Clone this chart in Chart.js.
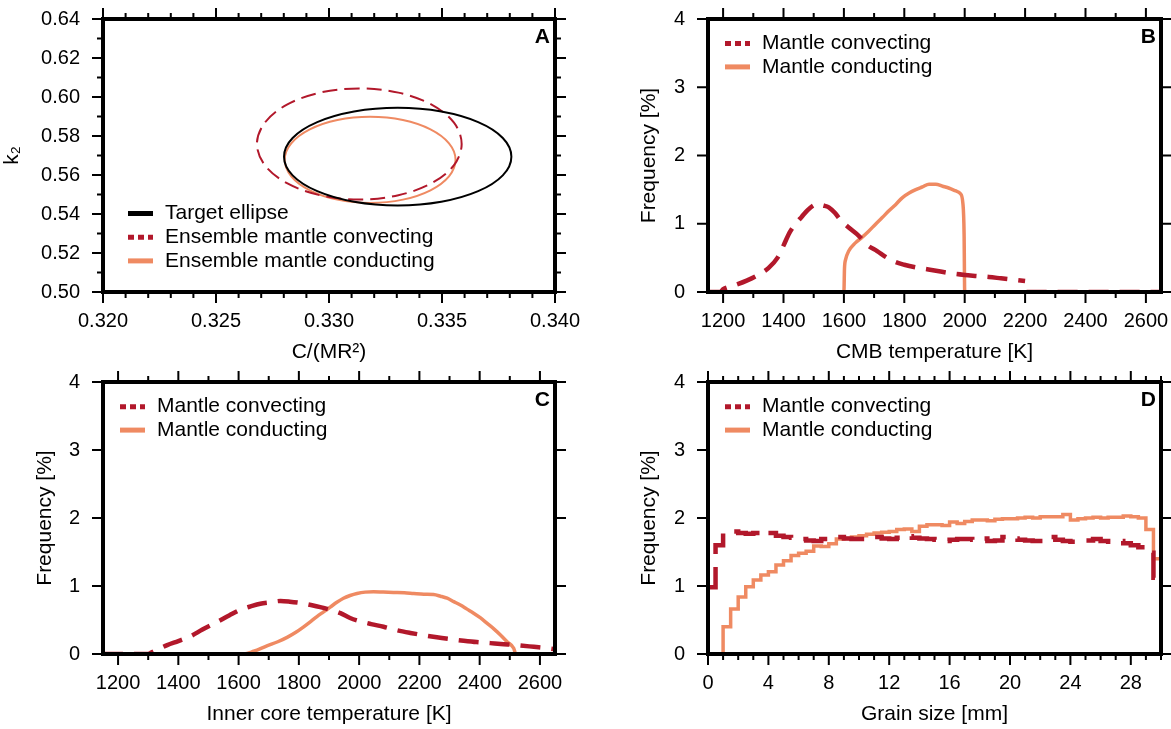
<!DOCTYPE html>
<html>
<head>
<meta charset="utf-8">
<script src="https://cdn.jsdelivr.net/npm/chart.js@4.4.1/dist/chart.umd.min.js"></script>
<style>
  html, body { margin: 0; padding: 0; background: #fff; }
  #wrap { position: relative; width: 1171px; height: 729px; overflow: hidden; background: #fff; }
  canvas { position: absolute; }
</style>
</head>
<body>
<div id="wrap">
  <canvas id="panelA" width="585" height="364" style="left:0;top:0"></canvas>
  <canvas id="panelB" width="586" height="364" style="left:585px;top:0"></canvas>
  <canvas id="panelC" width="585" height="365" style="left:0;top:364px"></canvas>
  <canvas id="panelD" width="586" height="365" style="left:585px;top:364px"></canvas>
</div>
<script>
// ---------- Panel A: k2 vs C/(MR^2) confidence ellipses (closed outlines) ----------
const targetC  = [0.33304,0.33111,0.32948,0.32839,0.32801,0.32839,0.32948,0.33111,0.33304,0.33497,0.33660,0.33769,0.33807,0.33769,0.33660,0.33497];
const targetK2 = [0.59445,0.59254,0.58711,0.57899,0.56940,0.55981,0.55169,0.54626,0.54435,0.54626,0.55169,0.55981,0.56940,0.57899,0.58711,0.59254];
const convC    = [0.33134,0.32961,0.32814,0.32716,0.32681,0.32716,0.32814,0.32961,0.33134,0.33307,0.33454,0.33553,0.33587,0.33553,0.33454,0.33307];
const convK2   = [0.60442,0.60225,0.59608,0.58683,0.57593,0.56503,0.55579,0.54961,0.54744,0.54961,0.55579,0.56503,0.57593,0.58683,0.59608,0.60225];
const condC    = [0.33182,0.33037,0.32915,0.32833,0.32804,0.32833,0.32915,0.33037,0.33182,0.33327,0.33449,0.33531,0.33560,0.33531,0.33449,0.33327];
const condK2   = [0.58985,0.58817,0.58338,0.57622,0.56777,0.55932,0.55216,0.54737,0.54569,0.54737,0.55216,0.55932,0.56777,0.57622,0.58338,0.58817];

// ---------- Panel B: CMB temperature histograms [K], frequency [%] (null = gap) ----------
const cmbConvT = [1150,1190,1200,1240,1280,1320,1350,1380,1400,1420,1440,1460,1480,1500,1515,1530,1550,1570,1590,1620,1650,1680,1710,1740,1770,1800,1840,1880,1920,1960,2000,2040,2080,2120,2160,2200,2202,2205,2650];
const cmbConvF = [0,0,0.04,0.10,0.17,0.26,0.35,0.50,0.68,0.87,1.00,1.10,1.20,1.27,1.29,1.27,1.24,1.16,1.05,0.93,0.82,0.68,0.60,0.51,0.44,0.40,0.36,0.33,0.30,0.27,0.25,0.235,0.22,0.20,0.18,0.16,null,0,0];
const cmbCondT = [1150,1600,1602,1606,1616,1638,1660,1682,1704,1727,1749,1771,1793,1816,1838,1860,1882,1904,1927,1949,1971,1986,1994,1998,2000,2650];
const cmbCondF = [0,0,0.35,0.48,0.60,0.72,0.80,0.89,0.99,1.09,1.19,1.28,1.38,1.45,1.50,1.54,1.58,1.58,1.55,1.52,1.48,1.44,1.30,0.85,0,0];

// ---------- Panel C: inner core temperature histograms [K] ----------
const icConvT = [1150,1300,1310,1363,1400,1440,1480,1528,1570,1606,1640,1672,1705,1739,1770,1805,1840,1871,1905,1938,1970,2004,2040,2081,2125,2170,2215,2258,2300,2347,2390,2435,2480,2524,2580,2634,2650];
const icConvF = [0,0,0.02,0.13,0.19,0.26,0.36,0.47,0.57,0.65,0.70,0.74,0.76,0.78,0.77,0.75,0.72,0.69,0.65,0.60,0.53,0.48,0.44,0.40,0.35,0.31,0.275,0.245,0.22,0.195,0.175,0.16,0.145,0.13,0.105,0.08,0.07];
const icCondT = [1150,1617,1650,1694,1730,1761,1790,1816,1840,1860,1882,1904,1926,1948,1970,1993,2020,2048,2080,2114,2150,2181,2215,2247,2270,2292,2314,2336,2358,2380,2403,2425,2447,2469,2491,2513,2520,2650];
const icCondF = [0,0,0.04,0.12,0.18,0.245,0.32,0.40,0.48,0.55,0.62,0.69,0.76,0.82,0.86,0.89,0.91,0.915,0.91,0.905,0.90,0.89,0.88,0.875,0.85,0.82,0.77,0.72,0.66,0.60,0.53,0.45,0.37,0.28,0.18,0.085,0,0];

// ---------- Panel D: grain size histograms, 0.5 mm bins ----------
const grainEdges = [0,0.5,1,1.5,2,2.5,3,3.5,4,4.5,5,5.5,6,6.5,7,7.5,8,8.5,9,9.5,10,10.5,11,11.5,12,12.5,13,13.5,14,14.5,15,15.5,16,16.5,17,17.5,18,18.5,19,19.5,20,20.5,21,21.5,22,22.5,23,23.5,24,24.5,25,25.5,26,26.5,27,27.5,28,28.5,29,29.5,30];
const grainConvF = [0.98,1.60,1.80,1.80,1.78,1.77,1.78,1.81,1.78,1.74,1.72,1.71,1.69,1.67,1.66,1.69,1.71,1.72,1.70,1.69,1.69,1.70,1.72,1.70,1.69,1.71,1.73,1.71,1.70,1.69,1.68,1.66,1.68,1.69,1.69,1.68,1.70,1.66,1.67,1.72,1.70,1.68,1.67,1.66,1.70,1.72,1.68,1.66,1.65,1.66,1.67,1.69,1.66,1.65,1.66,1.63,1.60,1.57,1.49,1.12];
const grainCondF = [0,0,0.40,0.66,0.84,0.99,1.09,1.16,1.21,1.31,1.37,1.45,1.48,1.51,1.59,1.58,1.62,1.69,1.70,1.72,1.74,1.76,1.78,1.79,1.80,1.83,1.84,1.80,1.88,1.90,1.90,1.89,1.94,1.92,1.95,1.97,1.97,1.96,1.98,1.99,1.99,2.00,2.01,2.00,2.02,2.02,2.02,2.05,1.97,1.99,2.00,2.01,2.00,2.01,2.01,2.03,2.02,2.00,1.83,1.40];

// ---------- labels ----------
const labelTarget = 'Target ellipse';
const labelEnsConv = 'Ensemble mantle convecting';
const labelEnsCond = 'Ensemble mantle conducting';
const labelConv = 'Mantle convecting';
const labelCond = 'Mantle conducting';

const RED = '#b2182b';
const ORANGE = '#ef8a62';
const FONT = '"Liberation Sans", Arial, Helvetica, sans-serif';

Chart.defaults.font.family = FONT;
Chart.defaults.color = '#000';

const toXY = (xs, ys) => xs.map((x, i) => ({ x: x, y: ys[i] }));
const toSteps = (edges, vals) => {
  const pts = vals.map((v, i) => ({ x: edges[i], y: v }));
  pts.push({ x: edges[edges.length - 1], y: vals[vals.length - 1] });
  return pts;
};

// Datasets flagged `closed` are drawn as smooth closed loops
const closedLoopPlugin = {
  id: 'closedLoop',
  afterDatasetsUpdate(chart) {
    chart.data.datasets.forEach((ds, i) => {
      if (!ds.closed) return;
      const line = chart.getDatasetMeta(i).dataset;
      if (line) { line._loop = true; line._fullLoop = true; line._pointsUpdated = false; }
    });
  }
};

// Frame, mirrored major/minor tick marks, panel letter and legend
const framePlugin = {
  id: 'frame',
  afterDatasetsDraw(chart, args, opts) {
    const ctx = chart.ctx;
    const a = chart.chartArea;
    const xs = chart.scales.x, ys = chart.scales.y;
    ctx.save();
    ctx.strokeStyle = '#000';
    ctx.lineWidth = 2;
    ctx.lineCap = 'butt';
    const marks = (scale, minor, major, horiz) => {
      const start = Math.ceil(scale.min / minor - 1e-6);
      const end = Math.floor(scale.max / minor + 1e-6);
      for (let k = start; k <= end; k++) {
        const v = k * minor;
        const r = v / major;
        const isMajor = Math.abs(r - Math.round(r)) < 1e-6;
        const len = isMajor ? 11 : 6;
        const p = scale.getPixelForValue(v);
        ctx.beginPath();
        if (horiz) {
          ctx.moveTo(p, a.bottom); ctx.lineTo(p, a.bottom + len);
          ctx.moveTo(p, a.top); ctx.lineTo(p, a.top - len);
        } else {
          ctx.moveTo(a.left, p); ctx.lineTo(a.left - len, p);
          ctx.moveTo(a.right, p); ctx.lineTo(a.right + len, p);
        }
        ctx.stroke();
      }
    };
    marks(xs, opts.xMinor, opts.xMajor, true);
    marks(ys, opts.yMinor, opts.yMajor, false);

    ctx.lineWidth = 4;
    ctx.lineJoin = 'miter';
    ctx.strokeRect(a.left, a.top, a.right - a.left, a.bottom - a.top);

    // panel letter
    ctx.fillStyle = '#000';
    ctx.font = 'bold 21px ' + FONT;
    ctx.textAlign = 'right';
    ctx.textBaseline = 'alphabetic';
    ctx.fillText(opts.letter, a.right - 5, a.top + 24);

    // legend
    const lg = opts.legend;
    ctx.font = '21px ' + FONT;
    ctx.textAlign = 'left';
    ctx.textBaseline = 'middle';
    chart.data.datasets.forEach((ds, i) => {
      const y = a.top + lg.top + i * lg.gap;
      const x0 = a.left + lg.dx;
      ctx.beginPath();
      ctx.strokeStyle = ds.borderColor;
      ctx.lineWidth = 5;
      ctx.setLineDash(ds.borderDash && ds.borderDash.length ? [6, 4] : []);
      ctx.moveTo(x0, y);
      ctx.lineTo(x0 + 25, y);
      ctx.stroke();
      ctx.setLineDash([]);
      ctx.fillStyle = '#000';
      ctx.fillText(ds.label, a.left + lg.textDx, y);
    });
    ctx.restore();
  }
};

function makePanel(id, cfg) {
  const canvas = document.getElementById(id);
  const W = canvas.width, H = canvas.height;
  const ar = cfg.area;
  const majors = (min, max, step) => {
    const out = [];
    const s = Math.ceil(min / step - 1e-6), e = Math.floor(max / step + 1e-6);
    for (let k = s; k <= e; k++) out.push({ value: k * step });
    return out;
  };
  return new Chart(canvas, {
    type: 'scatter',
    data: { datasets: cfg.datasets },
    options: {
      responsive: false,
      animation: false,
      events: [],
      layout: { autoPadding: false, padding: { top: ar.top, right: W - ar.right, left: 0, bottom: 0 } },
      elements: { point: { radius: 0 } },
      plugins: {
        legend: { display: false },
        tooltip: { enabled: false },
        frame: {
          letter: cfg.letter,
          xMinor: cfg.x.minor, xMajor: cfg.x.major,
          yMinor: cfg.y.minor, yMajor: cfg.y.major,
          legend: cfg.legend
        }
      },
      scales: {
        x: {
          type: 'linear', position: 'bottom',
          min: cfg.x.min, max: cfg.x.max,
          grid: { display: false, drawTicks: false }, border: { display: false },
          afterBuildTicks: s => { s.ticks = majors(cfg.x.min, cfg.x.max, cfg.x.major).filter(t => t.value < cfg.x.max - 1e-9 || cfg.x.keepMax); },
          ticks: { font: { size: 20 }, color: '#000', padding: 17, maxRotation: 0, autoSkip: false, callback: cfg.x.fmt },
          title: { display: true, text: cfg.x.title, color: '#000', font: { size: 21, lineHeight: 1 }, padding: { top: 0, bottom: cfg.x.titlePad } },
          afterFit: s => { s.height = H - ar.bottom; s.paddingLeft = 0; s.paddingRight = 0; }
        },
        y: {
          type: 'linear', position: 'left',
          min: cfg.y.min, max: cfg.y.max,
          grid: { display: false, drawTicks: false }, border: { display: false },
          afterBuildTicks: s => { s.ticks = majors(cfg.y.min, cfg.y.max, cfg.y.major); },
          ticks: { font: { size: 20 }, color: '#000', padding: 23, autoSkip: false, callback: cfg.y.fmt },
          title: { display: true, text: cfg.y.title, color: '#000', font: { size: 21, lineHeight: 1 }, padding: { top: cfg.y.titlePad, bottom: 0 } },
          afterFit: s => { s.width = ar.left; s.paddingTop = 0; s.paddingBottom = 0; }
        }
      }
    },
    plugins: [closedLoopPlugin, framePlugin]
  });
}

const lineDefaults = { showLine: true, fill: false, pointRadius: 0 };

// Panel A
makePanel('panelA', {
  letter: 'A',
  area: { left: 103, right: 555, top: 19, bottom: 292 },
  legend: { dx: 25, textDx: 62, top: 194.5, gap: 23.7 },
  x: { min: 0.320, max: 0.340, major: 0.005, minor: 0.001, keepMax: true, fmt: v => v.toFixed(3), title: 'C/(MR\u00B2)', titlePad: 1 },
  y: { min: 0.50, max: 0.64, major: 0.02, minor: 0.01, fmt: v => v.toFixed(2), title: 'k\u2082', titlePad: 2 },
  datasets: [
    Object.assign({ label: labelTarget, data: toXY(targetC, targetK2), borderColor: '#000', borderWidth: 2, tension: 0.34, closed: true, spanGaps: true }, lineDefaults),
    Object.assign({ label: labelEnsConv, data: toXY(convC, convK2), borderColor: RED, borderWidth: 2, borderDash: [15, 7], tension: 0.34, closed: true, spanGaps: true }, lineDefaults),
    Object.assign({ label: labelEnsCond, data: toXY(condC, condK2), borderColor: ORANGE, borderWidth: 2, tension: 0.34, closed: true, spanGaps: true }, lineDefaults)
  ]
});

// Panel B
makePanel('panelB', {
  letter: 'B',
  area: { left: 123, right: 576, top: 19, bottom: 292 },
  legend: { dx: 17, textDx: 54, top: 24.5, gap: 23.4 },
  x: { min: 1150, max: 2650, major: 200, minor: 100, fmt: v => String(Math.round(v)), title: 'CMB temperature [K]', titlePad: 1 },
  y: { min: 0, max: 4, major: 1, minor: 1, fmt: v => String(Math.round(v)), title: 'Frequency [%]', titlePad: 53.5 },
  datasets: [
    Object.assign({ label: labelConv, data: toXY(cmbConvT, cmbConvF), borderColor: RED, borderWidth: 4.5, borderDash: [20, 11], cubicInterpolationMode: 'monotone', borderJoinStyle: 'round', spanGaps: false }, lineDefaults),
    Object.assign({ label: labelCond, data: toXY(cmbCondT, cmbCondF), borderColor: ORANGE, borderWidth: 3.5, cubicInterpolationMode: 'monotone', borderJoinStyle: 'round' }, lineDefaults)
  ]
});

// Panel C
makePanel('panelC', {
  letter: 'C',
  area: { left: 103, right: 555, top: 18, bottom: 290 },
  legend: { dx: 17, textDx: 54, top: 24.7, gap: 23.4 },
  x: { min: 1150, max: 2650, major: 200, minor: 100, fmt: v => String(Math.round(v)), title: 'Inner core temperature [K]', titlePad: 4 },
  y: { min: 0, max: 4, major: 1, minor: 1, fmt: v => String(Math.round(v)), title: 'Frequency [%]', titlePad: 34.7 },
  datasets: [
    Object.assign({ label: labelConv, data: toXY(icConvT, icConvF), borderColor: RED, borderWidth: 4.5, borderDash: [20, 11], cubicInterpolationMode: 'monotone', borderJoinStyle: 'round' }, lineDefaults),
    Object.assign({ label: labelCond, data: toXY(icCondT, icCondF), borderColor: ORANGE, borderWidth: 3.5, cubicInterpolationMode: 'monotone', borderJoinStyle: 'round' }, lineDefaults)
  ]
});

// Panel D
makePanel('panelD', {
  letter: 'D',
  area: { left: 123, right: 576, top: 18, bottom: 290 },
  legend: { dx: 17, textDx: 54, top: 24.7, gap: 23.4 },
  x: { min: 0, max: 30, major: 4, minor: 1, fmt: v => String(Math.round(v)), title: 'Grain size [mm]', titlePad: 4 },
  y: { min: 0, max: 4, major: 1, minor: 1, fmt: v => String(Math.round(v)), title: 'Frequency [%]', titlePad: 53.5 },
  datasets: [
    Object.assign({ label: labelConv, data: toSteps(grainEdges, grainConvF), borderColor: RED, borderWidth: 4.5, borderDash: [28, 13], stepped: true }, lineDefaults),
    Object.assign({ label: labelCond, data: toSteps(grainEdges, grainCondF), borderColor: ORANGE, borderWidth: 3.5, stepped: true }, lineDefaults)
  ]
});
</script>
</body>
</html>
